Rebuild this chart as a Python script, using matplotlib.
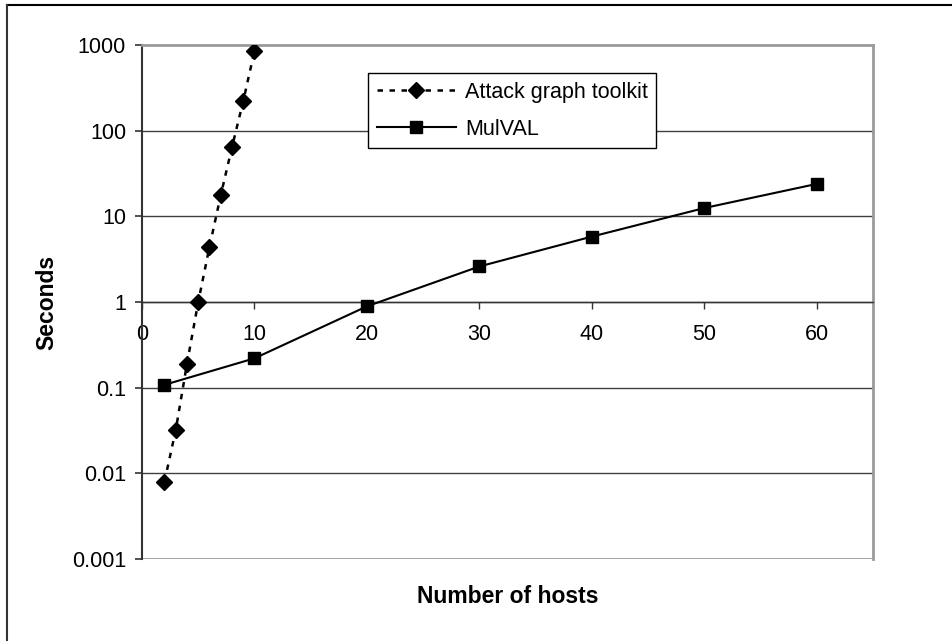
import matplotlib
matplotlib.use("Agg")
import matplotlib.pyplot as plt
from matplotlib.lines import Line2D

plt.rcParams['font.family'] = ['Liberation Sans', 'DejaVu Sans']
plt.rcParams['font.size'] = 15.5

# data
toolkit_hosts = [2, 3, 4, 5, 6, 7, 8, 9, 10]
toolkit_secs = [0.008, 0.032, 0.19, 1.0, 4.4, 17.6, 64, 221, 850]
mulval_hosts = [2, 10, 20, 30, 40, 50, 60]
mulval_secs = [0.108, 0.22, 0.89, 2.6, 5.8, 12.5, 23.9]
y_ticks = [0.001, 0.01, 0.1, 1, 10, 100, 1000]
y_labels = ['0.001', '0.01', '0.1', '1', '10', '100', '1000']
x_ticks = [0, 10, 20, 30, 40, 50, 60]

W, H = 952, 641
fig = plt.figure(figsize=(W / 100, H / 100), dpi=100)
ax = fig.add_axes([142 / W, 1 - 559 / H, (873 - 142) / W, (559 - 45) / H])

ax.set_yscale('log')
ax.set_ylim(0.001, 1000)
ax.set_xlim(0, 65)

# horizontal gridlines
for yv in y_ticks[1:-1]:
    ax.axhline(yv, color='#404040', lw=1, zorder=1)
ax.axhline(0.001, color='#9a9a9a', lw=2, zorder=1)

ax.plot(toolkit_hosts, toolkit_secs, color='black', lw=1.8, dashes=(2.2, 2.6),
        marker='D', markersize=8.5, label='Attack graph toolkit', zorder=3)
ax.plot(mulval_hosts, mulval_secs, color='black', lw=1.5, marker='s',
        markersize=8.5, label='MulVAL', zorder=3)

ax.set_yticks(y_ticks)
ax.set_yticklabels(y_labels)
ax.minorticks_off()
ax.set_xticks(x_ticks)
ax.tick_params(axis='y', direction='out', length=5, width=1.2, color='#333333', pad=6.5)
ax.tick_params(axis='x', direction='out', length=5, width=1, color='#333333', pad=11)

# x axis crosses at y = 1
ax.spines['bottom'].set_position(('data', 1))
ax.spines['bottom'].set_color('#333333')
ax.spines['bottom'].set_linewidth(1)
ax.spines['left'].set_color('#333333')
ax.spines['left'].set_linewidth(1.5)
ax.spines['top'].set_color('#9a9a9a')
ax.spines['top'].set_linewidth(2)
ax.spines['right'].set_color('#9a9a9a')
ax.spines['right'].set_linewidth(2)

ax.set_ylabel('Seconds', fontweight='bold', fontsize=16.5)
ax.yaxis.set_label_coords(-0.115, 0.5)
ax.set_xlabel('Number of hosts', fontweight='bold', fontsize=16.5)
ax.xaxis.set_label_coords(0.5, -0.0506)

leg = ax.legend(loc='upper left', bbox_to_anchor=(368 / W, 1 - 73 / H),
                bbox_transform=fig.transFigure, numpoints=1, fancybox=False,
                frameon=True, edgecolor='black', framealpha=1,
                handlelength=3.7, handletextpad=0.4, labelspacing=0.75,
                borderpad=0.4, borderaxespad=0)
leg.get_frame().set_linewidth(1)
leg.set_zorder(5)

# outer chart border (only top and left visible in the crop)
fig.add_artist(Line2D([7 / W, 1], [1 - 5 / H, 1 - 5 / H], color='black', lw=1.5))
fig.add_artist(Line2D([7 / W, 7 / W], [0, 1 - 5 / H], color='#333333', lw=1.5))

fig.savefig('out.png', dpi=100)
